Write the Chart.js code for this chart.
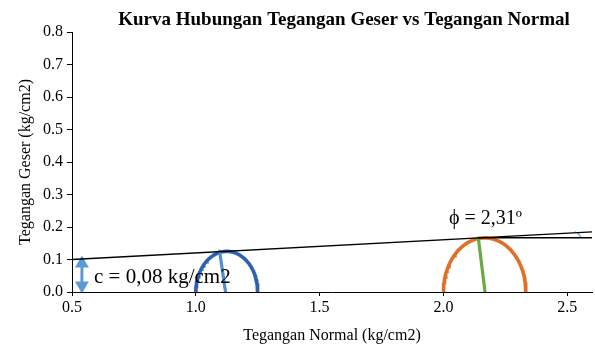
<!DOCTYPE html>
<html>
<head>
<meta charset="utf-8">
<script src="https://cdn.jsdelivr.net/npm/chart.js@4.4.1/dist/chart.umd.min.js"></script>
<style>
html,body{margin:0;padding:0;background:#fff;}
#wrap{width:595px;height:347px;position:relative;}
</style>
</head>
<body>
<div id="wrap"><canvas id="c" width="595" height="347"></canvas></div>
<script>
// ---- data ----
const titleText = 'Kurva Hubungan Tegangan Geser vs Tegangan Normal';
const xTitle = 'Tegangan Normal (kg/cm2)';
const yTitle = 'Tegangan Geser (kg/cm2)';
const sigma3 = [1.0, 2.0];          // minor principal stress (circle left end)
const sigma1 = [1.25, 2.333];       // major principal stress (circle right end)
const circleColors = ['#2E62B0', '#E07028'];
const envelopeX = [0.5, 2.6];
const envelopeY = [0.1, 0.185];
const radiusLineX = [1.12, 1.096];
const radiusLineY = [0, 0.126];
const greenLineX = [2.168, 2.141];
const greenLineY = [0, 0.166];
const horizX = [2.14, 2.6];
const horizY = [0.167, 0.167];
const arcX = [2.530, 2.546, 2.556];
const arcY = [0.185, 0.179, 0.166];
const arrowX = [0.54, 0.54];
const arrowY = [0.02, 0.088];
const cohesionLabel = 'c = 0,08 kg/cm2';
const phiLabel = '\u03D5 = 2,31\u00BA';
const xTicks = [0.5, 1.0, 1.5, 2.0, 2.5];
const yTicks = [0, 0.1, 0.2, 0.3, 0.4, 0.5, 0.6, 0.7, 0.8];

function semicircle(a, b) {
  const c = (a + b) / 2, r = (b - a) / 2, pts = [];
  for (let i = 0; i <= 90; i++) {
    const t = Math.PI - Math.PI * i / 90;
    pts.push({x: c + r * Math.cos(t), y: r * Math.sin(t)});
  }
  return pts;
}
const zip = (xs, ys) => xs.map((x, i) => ({x, y: ys[i]}));

const serif = "'Liberation Serif','Times New Roman',serif";

const datasets = [
  {data: zip(envelopeX, envelopeY), borderColor: '#000', borderWidth: 1.3, pointRadius: 0},
  {data: zip(horizX, horizY), borderColor: '#000', borderWidth: 1.3, pointRadius: 0},
  {data: zip(arcX, arcY), borderColor: '#5B9BD5', borderWidth: 1.2, pointRadius: 0, tension: 0.4},
  {data: zip(radiusLineX, radiusLineY), borderColor: '#4F8FD0', borderWidth: 3.2, pointRadius: 0, borderCapStyle: 'round'},
  {data: zip(greenLineX, greenLineY), borderColor: '#6AAA40', borderWidth: 3.2, pointRadius: 0, borderCapStyle: 'round'},
  {data: zip(arrowX, arrowY), borderColor: '#5B9BD5', borderWidth: 3, pointStyle: 'triangle',
   pointRadius: 8, pointRotation: [180, 0], pointBackgroundColor: '#5B9BD5', pointBorderColor: '#5B9BD5', pointBorderWidth: 0}
];
sigma3.forEach((s, i) => datasets.push({
  data: semicircle(s, sigma1[i]), borderColor: circleColors[i], borderWidth: 3.6, pointRadius: 0, borderCapStyle: 'round'
}));

const textPlugin = {
  id: 'texts',
  afterDatasetsDraw(chart) {
    const {ctx, scales: {x, y}} = chart;
    ctx.save();
    ctx.fillStyle = '#000';
    ctx.textBaseline = 'alphabetic';
    ctx.textAlign = 'left';
    ctx.font = '21px ' + serif;
    ctx.fillText(cohesionLabel, x.getPixelForValue(0.589), y.getPixelForValue(0.028));
    ctx.font = '20px ' + serif;
    ctx.fillText(phiLabel, x.getPixelForValue(2.022), y.getPixelForValue(0.209));
    ctx.font = 'bold 19px ' + serif;
    ctx.textAlign = 'center';
    ctx.fillText(titleText, 344, 25);
    ctx.restore();
  }
};

new Chart(document.getElementById('c'), {
  type: 'line',
  data: {datasets},
  options: {
    responsive: false,
    animation: false,
    events: [],
    layout: {autoPadding: false, padding: {left: 0, right: 3, top: 32, bottom: 0}},
    plugins: {legend: {display: false}, tooltip: {enabled: false}},
    scales: {
      x: {
        type: 'linear', min: 0.5, max: 2.6,
        afterBuildTicks: s => { s.ticks = xTicks.map(v => ({value: v})); },
        afterFit: s => { s.height = 55; s.paddingLeft = 0; s.paddingRight = 0; },
        ticks: {color: '#000', font: {family: serif, size: 16}, padding: 2,
                callback: v => Number(v).toFixed(1), maxRotation: 0},
        grid: {drawOnChartArea: false, tickLength: 4, color: '#000'},
        border: {color: '#000', width: 1},
        title: {display: true, text: xTitle, color: '#000', font: {family: serif, size: 16}, padding: {top: 4, bottom: 2}}
      },
      y: {
        type: 'linear', min: 0, max: 0.8,
        afterBuildTicks: s => { s.ticks = yTicks.map(v => ({value: v})); },
        afterFit: s => { s.width = 72; },
        ticks: {color: '#000', font: {family: serif, size: 16}, padding: 4,
                callback: v => Number(v).toFixed(1)},
        grid: {drawOnChartArea: false, tickLength: 5, color: '#000'},
        border: {color: '#000', width: 1},
        title: {display: true, text: yTitle, color: '#000', font: {family: serif, size: 16}, padding: {top: 16, bottom: 4}}
      }
    }
  },
  plugins: [textPlugin]
});
</script>
</body>
</html>
